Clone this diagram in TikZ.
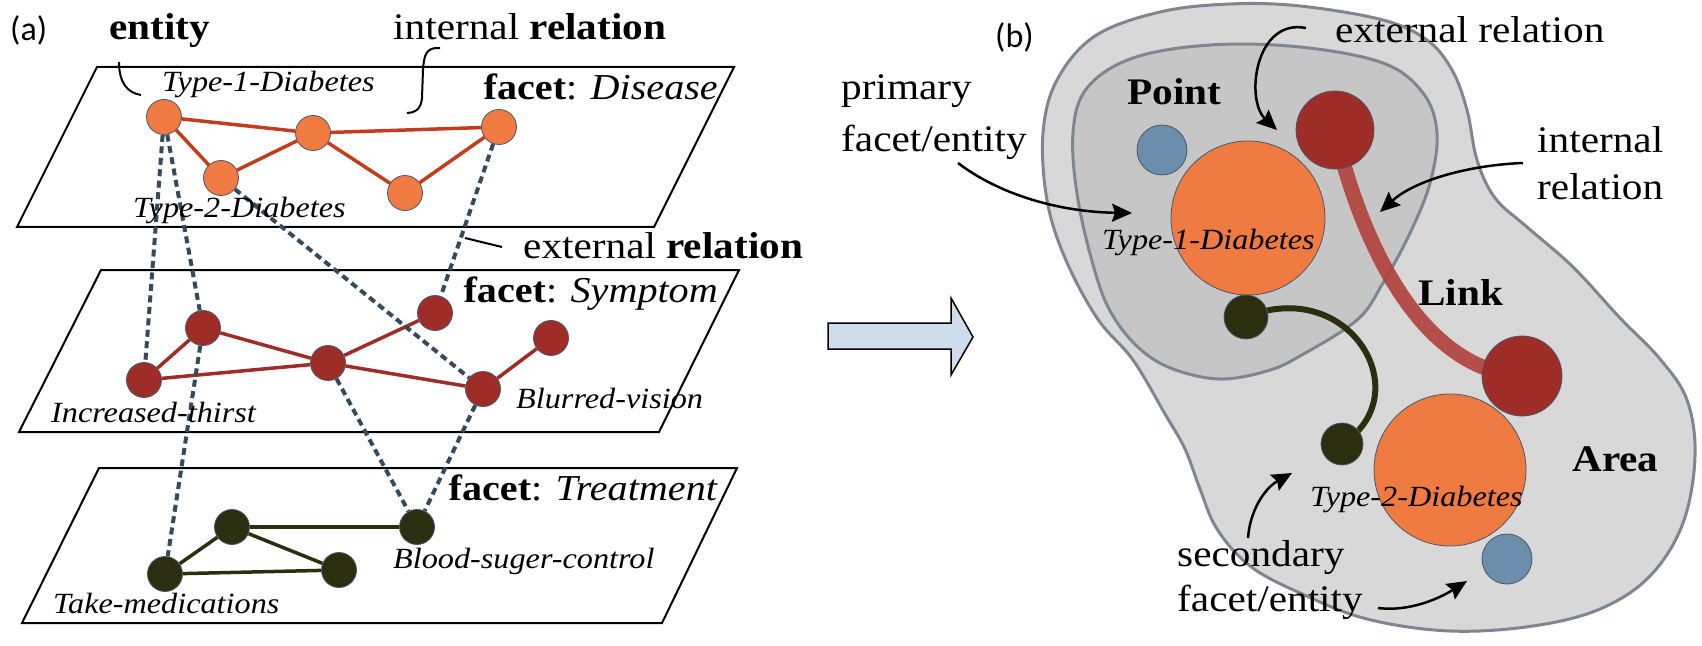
\documentclass[tikz,border=0pt]{standalone}
\usepackage{fontspec}
\setmainfont{Liberation Serif}[FakeStretch=1.1]
\newfontfamily\labfont{Carlito}
\usetikzlibrary{arrows.meta}
\pgfdeclarelayer{paper}\pgfdeclarelayer{back}\pgfdeclarelayer{mid}
\pgfsetlayers{paper,back,mid,main}
\definecolor{orng}{HTML}{EF7B42}
\definecolor{oline}{HTML}{C23C1E}
\definecolor{rnd}{HTML}{9E2D27}
\definecolor{gnd}{HTML}{2B2F0F}
\definecolor{bnd}{HTML}{6C8EAD}
\definecolor{dsh}{HTML}{364A5B}
\definecolor{nbord}{HTML}{4A5866}
\definecolor{outerf}{HTML}{D8D8D9}
\definecolor{innerf}{HTML}{C6C6C7}
\definecolor{blobl}{HTML}{7E878F}
\definecolor{linkc}{HTML}{B0403B}
\definecolor{arrf}{HTML}{CDDDEB}
\tikzset{
 plane/.style={draw=black, line width=2bp},
 dotnode/.style={circle, draw=nbord, line width=0.8bp, inner sep=0pt, minimum size=35bp},
 onode/.style={dotnode, fill=orng},
 rnode/.style={dotnode, fill=rnd},
 gnode/.style={dotnode, fill=gnd},
 oedge/.style={draw=oline, line width=3.5bp},
 redge/.style={draw=rnd, line width=3.5bp},
 gedge/.style={draw=gnd, line width=3.5bp},
 ext/.style={draw=dsh, line width=4bp, dash pattern=on 7bp off 4.5bp},
 lbl/.style={font=\fontsize{37.5bp}{46bp}\selectfont, inner sep=0pt, anchor=base west},
 ilbl/.style={font=\fontsize{29.3bp}{35bp}\selectfont\itshape, inner sep=0pt, anchor=base west},
 flbl/.style={font=\fontsize{36.5bp}{44bp}\selectfont, inner sep=0pt, anchor=base east},
 plbl/.style={font=\fontsize{34bp}{40bp}\selectfont\labfont, inner sep=0pt, anchor=west},
 callout/.style={draw=black, line width=2bp},
 callarrow/.style={draw=black, line width=2.5bp, -{Stealth[length=20bp,width=18bp,inset=3bp]}},
 blob/.style={draw=blobl, line width=3bp},
}
\begin{document}
\begin{tikzpicture}[x=1bp,y=-1bp]
\useasboundingbox (0,0) rectangle (1702,646);
\begin{pgfonlayer}{paper}
\fill[white] (0,0) rectangle (1702,646);
\end{pgfonlayer}

% ---------------- panel (a) ----------------
\node[plbl] (la) at (10,30) {(a)};
\begin{pgfonlayer}{back}
\draw[plane] (97,67) -- (734,67) -- (654,227) -- (17,227) -- cycle;
\draw[plane] (101,270) -- (739,270) -- (659,432) -- (19,432) -- cycle;
\draw[plane] (99,468) -- (737,468) -- (662,623) -- (22,623) -- cycle;
\end{pgfonlayer}

\node[lbl] (tent) at (109,40) {\textbf{entity}};
\node[lbl] (tint) at (393,40) {internal \textbf{relation}};
\node[lbl] (text) at (523,258) {external \textbf{relation}};
\node[flbl] (fdis) at (718,100) {\textbf{facet}: \textit{Disease}};
\node[flbl] (fsym) at (718,302) {\textbf{facet}: \textit{Symptom}};
\node[flbl] (ftre) at (718,500) {\textbf{facet}: \textit{Treatment}};

% disease
\node[onode] (A) at (164,117) {};
\node[onode] (B) at (313,133) {};
\node[onode] (C) at (499,127) {};
\node[onode] (D) at (221,178) {};
\node[onode] (E) at (405,193) {};
% symptom
\node[rnode] (S1) at (144,380) {};
\node[rnode] (S2) at (203,328) {};
\node[rnode] (S3) at (328,363) {};
\node[rnode] (S4) at (435,313) {};
\node[rnode] (S5) at (483,389) {};
\node[rnode] (S6) at (551,338) {};
% treatment
\node[gnode] (T1) at (165,574) {};
\node[gnode] (T2) at (232,527) {};
\node[gnode] (T3) at (339,570) {};
\node[gnode] (T4) at (417,527) {};

\node[ilbl] (l1) at (162,92) {Type-1-Diabetes};
\node[ilbl] (l2) at (133,218) {Type-2-Diabetes};
\node[ilbl] (l3) at (51,422) {Increased-thirst};
\node[ilbl] (l4) at (516,408) {Blurred-vision};
\node[ilbl] (l5) at (393,568) {Blood-suger-control};
\node[ilbl] (l6) at (53,613) {Take-medications};

\begin{pgfonlayer}{mid}
\draw[oedge] (A) -- (B);
\draw[oedge] (B) -- (C);
\draw[oedge] (A) -- (D);
\draw[oedge] (D) -- (B);
\draw[oedge] (B) -- (E);
\draw[oedge] (E) -- (C);
\draw[redge] (S1) -- (S2);
\draw[redge] (S1) -- (S3);
\draw[redge] (S2) -- (S3);
\draw[redge] (S3) -- (S4);
\draw[redge] (S3) -- (S5);
\draw[redge] (S5) -- (S6);
\draw[gedge] (T1) -- (T2);
\draw[gedge] (T1) -- (T3);
\draw[gedge] (T2) -- (T3);
\draw[gedge] (T2) -- (T4);
\draw[ext] (A) -- (S1);
\draw[ext] (A) -- (S2);
\draw[ext] (S2) -- (T1);
\draw[ext] (D) -- (S5);
\draw[ext] (C) -- (S4);
\draw[ext] (S3) -- (T4);
\draw[ext] (S5) -- (T4);
\end{pgfonlayer}

% callout marks
\coordinate (ce1) at (119,62);
\coordinate (ce2) at (141,95);
\draw[callout] (ce1) .. controls (119,82) and (127,93) .. (ce2);
\coordinate (ci1) at (440,48);
\coordinate (ci2) at (407,113);
\draw[callout] (ci1) .. controls (426,47) and (424,55) .. (423,70) -- (422,98) .. controls (421,110) and (414,113) .. (ci2);
\coordinate (cx1) at (465,238);
\coordinate (cx2) at (502,247);
\draw[callout] (cx1) -- (cx2);

% big arrow
\draw[draw=black, line width=1.5bp, fill=arrf] (828,323) -- (951,323) -- (951,298) -- (973,337) -- (951,375) -- (951,349) -- (828,349) -- cycle;

% ---------------- panel (b) ----------------
\node[plbl] (lb) at (995,37) {(b)};
\begin{pgfonlayer}{back}
\filldraw[blob, fill=outerf] plot[smooth cycle, tension=0.6] coordinates {
 (1300,6) (1383,20) (1427,40) (1452,70) (1467,110) (1477,160) (1495,198)
 (1527,227) (1573,267) (1620,318) (1660,359) (1687,400) (1695,456)
 (1683,523) (1650,576) (1600,609) (1533,626) (1450,631) (1367,619)
 (1300,593) (1250,566) (1217,529) (1200,489) (1185,449) (1165,414)
 (1133,360) (1097,318) (1065,258) (1047,200) (1043,133) (1057,80)
 (1095,36) (1160,12) (1230,4)};
\filldraw[blob, fill=innerf] plot[smooth cycle, tension=0.6] coordinates {
 (1300,47) (1383,63) (1423,93) (1437,133) (1430,183) (1410,233)
 (1383,283) (1357,320) (1300,356) (1267,371) (1220,379) (1173,369)
 (1140,349) (1113,316) (1096,275) (1078,200) (1073,133) (1087,88)
 (1133,58) (1210,45)};
\end{pgfonlayer}

\node[dotnode, fill=bnd, minimum size=50bp] (P1) at (1162,150) {};
\node[dotnode, fill=orng, minimum size=154bp] (O1) at (1248,218) {};
\node[dotnode, fill=rnd, minimum size=78bp] (R1) at (1335,130) {};
\node[dotnode, fill=gnd, minimum size=44bp] (G1) at (1246,317) {};
\node[dotnode, fill=rnd, minimum size=80bp] (R2) at (1522,376) {};
\node[dotnode, fill=orng, minimum size=152bp] (O2) at (1450,470) {};
\node[dotnode, fill=gnd, minimum size=42bp] (G2) at (1342,444) {};
\node[dotnode, fill=bnd, minimum size=50bp] (P2) at (1507,559) {};

\begin{pgfonlayer}{mid}
\draw[linkc, line width=15bp, opacity=0.9] (R1.center) .. controls (1360,240) and (1420,370) .. (R2.center);
\draw[gnd, line width=6bp] (G1.center) .. controls (1350,275) and (1420,395) .. (G2.center);
\end{pgfonlayer}

\node[ilbl] (r1) at (1102,250) {Type-1-Diabetes};
\node[ilbl] (r2) at (1310,506) {Type-2-Diabetes};
\node[lbl] (tpt) at (1127,105) {\textbf{Point}};
\node[lbl] (tlk) at (1418,305) {\textbf{Link}};
\node[lbl] (tar) at (1572,471) {\textbf{Area}};
\node[lbl] (tpr1) at (841,100) {primary};
\node[lbl] (tpr2) at (841,152) {facet/entity};
\node[lbl] (tex) at (1335,43) {external relation};
\node[lbl] (tin1) at (1537,153) {internal};
\node[lbl] (tin2) at (1537,200) {relation};
\node[lbl] (tse1) at (1177,566) {secondary};
\node[lbl] (tse2) at (1177,611) {facet/entity};

\coordinate (a1s) at (958,163);
\coordinate (a1e) at (1132,213);
\draw[callarrow] (a1s) .. controls (1000,195) and (1060,212) .. (a1e);
\coordinate (a2s) at (1306,28);
\coordinate (a2e) at (1277,130);
\draw[callarrow] (a2s) .. controls (1255,18) and (1245,100) .. (a2e);
\coordinate (a3s) at (1523,163);
\coordinate (a3e) at (1380,212);
\draw[callarrow] (a3s) .. controls (1470,165) and (1415,180) .. (a3e);
\coordinate (a4s) at (1248,538);
\coordinate (a4e) at (1292,473);
\draw[callarrow] (a4s) .. controls (1250,510) and (1265,488) .. (a4e);
\coordinate (a5s) at (1378,608);
\coordinate (a5e) at (1467,581);
\draw[callarrow] (a5s) .. controls (1410,612) and (1440,598) .. (a5e);
\end{tikzpicture}
\end{document}
